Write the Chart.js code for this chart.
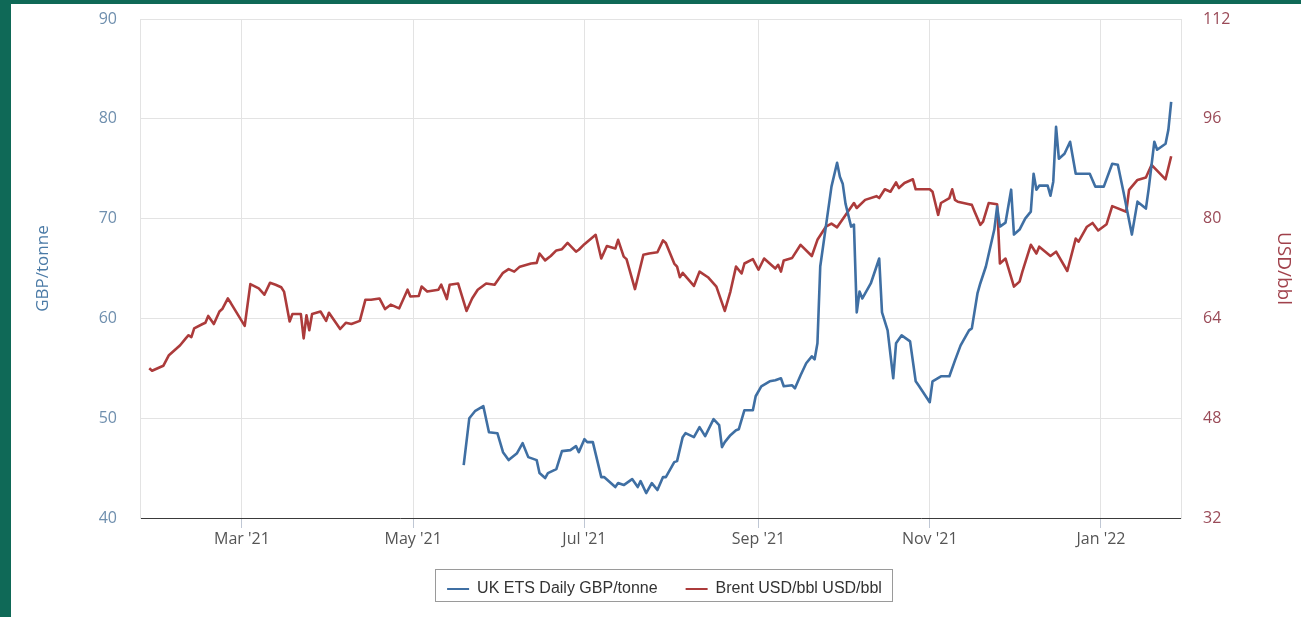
<!DOCTYPE html>
<html>
<head>
<meta charset="utf-8">
<script src="https://cdn.jsdelivr.net/npm/chart.js@4.4.1/dist/chart.umd.min.js"></script>
<style>
html,body{margin:0;padding:0;background:#fff;}
#wrap{width:1301px;height:617px;position:relative;}
</style>
</head>
<body>
<div id="wrap"><canvas id="c"></canvas></div>
<script>
// x values are days since 2021-01-01
const brentDays = [26,27,29,31,33,35,37,39,40,41,42,45,46,47,49,51,52,54,55,60,62,65,67,69,71,73,74,76,77,80,81,82,83,84,87,89,90,94,96,98,101,103,105,108,110,112,115,118,119,122,123,125,129,130,132,133,136,139,141,143,146,149,152,154,156,158,162,164,165,167,169,171,173,175,178,179,181,185,187,189,192,193,195,196,199,202,204,207,209,210,213,214,215,216,220,222,225,228,231,233,235,237,238,241,243,245,249,250,251,252,255,258,262,264,267,269,271,277,278,281,285,286,288,290,292,293,295,298,299,304,305,307,308,311,312,313,314,318,319,320,322,323,325,328,329,331,334,336,337,340,342,343,347,349,353,356,357,360,362,364,367,369,374,375,378,381,383,388,390];
const brentValues = [56.0,55.6,56.0,56.4,58.1,58.9,59.7,60.8,61.3,61.0,62.4,63.1,63.3,64.4,63.1,65.1,65.5,67.2,66.5,62.8,69.5,68.8,67.8,69.7,69.4,69.0,68.3,63.5,64.7,64.7,60.8,64.5,62.1,64.7,65.1,63.6,64.9,62.3,63.3,63.1,63.6,67.0,67.0,67.2,65.5,66.2,65.6,68.6,67.5,67.6,69.1,68.3,68.6,69.4,67.1,69.4,69.6,65.2,67.2,68.6,69.6,69.4,71.3,71.9,71.5,72.3,72.8,72.9,74.4,73.3,74.0,74.9,75.1,76.1,74.7,75.0,75.9,77.4,73.6,75.6,75.2,76.6,73.9,73.5,68.7,74.2,74.4,74.6,76.5,76.1,72.8,72.3,70.6,71.3,69.2,71.5,70.6,69.1,65.2,68.3,72.3,71.2,72.8,73.5,71.8,73.6,72.0,72.6,71.5,73.3,73.7,75.8,74.0,76.6,78.7,79.2,78.6,82.5,81.7,83.0,83.6,83.3,84.7,84.3,85.8,84.9,85.7,86.3,84.7,84.7,84.3,80.6,82.5,83.3,84.7,83.0,82.7,82.3,82.2,81.1,79.0,79.5,82.5,82.3,72.8,73.6,69.1,69.9,71.5,75.8,74.4,75.5,74.0,74.7,71.6,76.8,76.3,78.7,79.3,78.1,79.1,82.0,81.1,84.6,86.2,86.6,88.6,86.3,90.0];
const etsDays = [138,140,142,145,147,150,152,154,157,159,161,164,165,167,168,171,173,176,178,179,181,182,184,187,188,192,193,195,198,200,201,203,205,207,209,210,213,214,216,217,220,222,224,227,229,230,231,233,235,236,238,241,242,244,247,249,251,252,255,256,258,260,262,263,264,265,267,269,271,272,273,274,276,277,278,279,280,283,286,287,289,291,292,294,297,299,300,304,305,308,311,313,315,318,319,321,322,324,327,328,329,331,333,334,336,338,340,341,342,343,346,347,348,349,350,352,354,356,361,363,366,369,371,373,376,378,381,382,384,385,388,389,390];
const etsValues = [45.3,50.0,50.7,51.2,48.6,48.5,46.6,45.8,46.5,47.5,46.1,45.8,44.5,44.0,44.5,44.9,46.7,46.8,47.2,46.6,47.9,47.6,47.6,44.1,44.1,43.1,43.5,43.3,43.9,43.1,43.7,42.5,43.5,42.8,44.1,44.1,45.6,45.7,48.1,48.5,48.1,49.1,48.2,49.9,49.3,47.1,47.6,48.3,48.8,48.9,50.8,50.8,52.2,53.2,53.7,53.8,54.0,53.2,53.3,53.0,54.3,55.5,56.2,55.9,57.5,65.2,69.2,73.2,75.6,74.2,73.5,71.5,69.2,69.4,60.6,62.7,62.0,63.5,66.0,60.6,58.8,54.0,57.5,58.3,57.7,53.7,53.3,51.6,53.7,54.2,54.2,55.8,57.3,58.8,59.0,62.5,63.5,65.2,68.9,71.2,69.2,69.6,72.9,68.4,68.9,70.0,70.7,74.5,72.9,73.3,73.3,72.3,73.7,79.2,76.0,76.5,77.7,74.5,74.5,73.2,73.2,75.5,75.4,72.7,68.4,71.7,71.0,73.0,77.7,76.9,77.5,78.9,81.7];
const monthTickDays = [59,120,181,243,304,365];
const monthTickLabels = ["Mar '21","May '21","Jul '21","Sep '21","Nov '21","Jan '22"];
const seriesNames = ["UK ETS Daily GBP/tonne","Brent USD/bbl USD/bbl"];

const framePlugin = {
  id:'frame',
  beforeDraw(chart){
    const c = chart.ctx; c.save();
    c.fillStyle = '#ffffff'; c.fillRect(0,0,chart.width,chart.height);
    c.fillStyle = '#0f6957';
    c.fillRect(0,0,11,chart.height);
    c.fillRect(0,0,chart.width,4);
    c.restore();
  }
};
const legendBoxPlugin = {
  id:'legendBox',
  afterDraw(chart){
    const hb = chart.legend && chart.legend.legendHitBoxes;
    if(!hb || !hb.length) return;
    let l = Infinity, r = -Infinity, t = Infinity, b = -Infinity;
    hb.forEach(h=>{ l=Math.min(l,h.left); r=Math.max(r,h.left+h.width); t=Math.min(t,h.top); b=Math.max(b,h.top+h.height); });
    const c = chart.ctx; c.save();
    c.strokeStyle = '#9a9a9a'; c.lineWidth = 1;
    c.strokeRect(Math.round(l-12)+0.5, Math.round(t-12)+0.5, Math.round(r-l+22), Math.round(b-t+16));
    c.restore();
  }
};
function noVerticalPadding(scale){ scale.paddingTop = 0; scale.paddingBottom = 0; }

const ctx = document.getElementById('c');
new Chart(ctx, {
  type:'line',
  data:{
    datasets:[
      { label: seriesNames[0], data: etsDays.map((d,i)=>({x:d,y:etsValues[i]})),
        borderColor:'#3f6fa3', backgroundColor:'#3f6fa3', borderWidth:2.6, pointRadius:0, tension:0, yAxisID:'y', borderJoinStyle:'round' },
      { label: seriesNames[1], data: brentDays.map((d,i)=>({x:d,y:brentValues[i]})),
        borderColor:'#ac3b3b', backgroundColor:'#ac3b3b', borderWidth:2.6, pointRadius:0, tension:0, yAxisID:'y1', borderJoinStyle:'round' }
    ]
  },
  options:{
    responsive:true, maintainAspectRatio:false, animation:false, devicePixelRatio:1,
    layout:{ padding:{left:28, right:0, top:19, bottom:10} },
    plugins:{
      tooltip:{enabled:false},
      legend:{
        position:'bottom',
        labels:{
          font:{family:'"Liberation Sans", Arial, sans-serif', size:16},
          color:'#333333', boxWidth:22, boxHeight:2, padding:28,
          generateLabels(chart){
            const items = Chart.defaults.plugins.legend.labels.generateLabels(chart);
            items.forEach(it=>{ it.lineWidth = 0; it.fillStyle = it.strokeStyle; });
            return items;
          }
        }
      }
    },
    scales:{
      x:{
        type:'linear', min:22.7, max:393.5,
        afterBuildTicks(scale){ scale.ticks = monthTickDays.map(v=>({value:v})); },
        afterFit(scale){ scale.height = 35; },
        ticks:{
          callback(v){ const i = monthTickDays.indexOf(v); return i>=0 ? monthTickLabels[i] : ''; },
          font:{family:'"Open Sans", sans-serif', size:16}, color:'#555555', padding:2, maxRotation:0, autoSkip:false
        },
        grid:{ color:'#e3e3e3', tickColor:'#bfc7d4', tickLength:10, drawTicks:true },
        border:{ color:'#3a3a3a', width:1 }
      },
      y:{
        position:'left', min:40, max:90,
        afterFit(scale){ scale.width = 112; noVerticalPadding(scale); },
        ticks:{ stepSize:10, font:{family:'"Open Sans", sans-serif', size:16}, color:'#6f8fae', padding:23 },
        grid:{ color:'#e3e3e3', drawTicks:false },
        border:{ color:'#e3e3e3' },
        title:{ display:true, text:'GBP/tonne', font:{family:'"Open Sans", sans-serif', size:17}, color:'#4a7aa6', padding:{top:5,bottom:0} }
      },
      y1:{
        position:'right', min:32, max:112,
        afterFit(scale){ scale.width = 120; noVerticalPadding(scale); },
        ticks:{ stepSize:16, font:{family:'"Open Sans", sans-serif', size:16}, color:'#9a4b58', padding:22 },
        grid:{ drawOnChartArea:false, drawTicks:false },
        border:{ color:'#e3e3e3' },
        title:{ display:true, text:'USD/bbl', font:{family:'"Open Sans", sans-serif', size:19}, color:'#a0414b', padding:{top:6,bottom:0} }
      }
    }
  },
  plugins:[framePlugin, legendBoxPlugin]
});
</script>
</body>
</html>
